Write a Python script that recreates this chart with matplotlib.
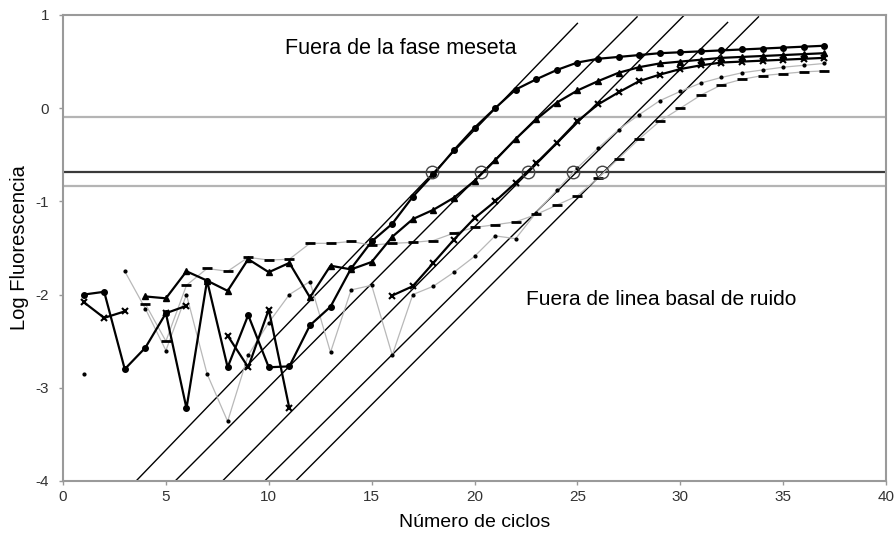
import numpy as np
import matplotlib
matplotlib.use("Agg")
import matplotlib.pyplot as plt

plt.rcParams['font.family'] = ['Liberation Sans', 'DejaVu Sans']
plt.rcParams['axes.unicode_minus'] = False

nan = np.nan
ciclos = np.arange(1, 38)

# Log fluorescencia por ciclo (1..37), nan = sin valor
serie_a = [-2.0, -1.97, -2.8, -2.57, -2.2, -3.22, -1.85, -2.78, -2.22, -2.78,
           -2.77, -2.33, -2.13, -1.72, -1.43, -1.24, -0.95, -0.71, -0.45, -0.21,
           0.0, 0.2, 0.31, 0.41, 0.49, 0.53, 0.55, 0.57, 0.59, 0.6,
           0.61, 0.62, 0.63, 0.64, 0.65, 0.66, 0.67]
serie_b = [nan, nan, nan, -2.02, -2.04, -1.75, -1.85, -1.96, -1.62, -1.76,
           -1.66, -2.03, -1.69, -1.73, -1.65, -1.38, -1.19, -1.09, -0.96, -0.78,
           -0.56, -0.33, -0.12, 0.06, 0.19, 0.29, 0.38, 0.44, 0.48, 0.5,
           0.52, 0.54, 0.55, 0.56, 0.57, 0.58, 0.59]
serie_c = [-2.08, -2.25, -2.18, nan, -2.2, -2.12, nan, -2.44, -2.78, -2.16,
           -3.22, nan, nan, nan, nan, -2.01, -1.91, -1.66, -1.41, -1.18,
           -1.0, -0.8, -0.59, -0.37, -0.14, 0.04, 0.17, 0.29, 0.36, 0.42,
           0.46, 0.49, 0.5, 0.51, 0.52, 0.53, 0.54]
serie_d = [-2.85, nan, -1.75, -2.15, -2.6, -2.0, -2.85, -3.36, -2.65, -2.3,
           -2.0, -1.86, -2.62, -1.95, -1.9, -2.65, -2.0, -1.91, -1.76, -1.59,
           -1.37, -1.4, -1.12, -0.88, -0.64, -0.43, -0.23, -0.07, 0.08, 0.18,
           0.27, 0.33, 0.38, 0.41, 0.44, 0.46, 0.48]
serie_e = [nan, nan, nan, -2.1, -2.5, -1.9, -1.72, -1.75, -1.6, -1.63,
           -1.62, -1.45, -1.45, -1.43, -1.47, -1.45, -1.44, -1.42, -1.34, -1.28,
           -1.25, -1.22, -1.14, -1.04, -0.94, -0.75, -0.54, -0.33, -0.14, 0.0,
           0.14, 0.25, 0.31, 0.35, 0.37, 0.39, 0.4]

# Umbrales horizontales
umbral_sup = -0.09
umbral = -0.69
umbral_inf = -0.84

# Rectas de eficiencia: punto inferior y punto superior
rectas_x0 = [3.55, 5.45, 7.75, 9.8, 11.3]
rectas_y0 = [-4, -4, -4, -4, -4]
rectas_x1 = [25.0, 27.9, 30.2, 32.3, 33.8]
rectas_y1 = [0.91, 0.98, 1.0, 0.92, 0.98]

# Ct (cruce con el umbral)
ct = [17.95, 20.3, 22.6, 24.8, 26.2]

fig = plt.figure(figsize=(8.94, 5.43), dpi=100)
ax = fig.add_axes([0.0705, 0.1142, 0.9206, 0.8582])

ax.axhline(umbral_sup, color='#b4b4b4', lw=1.6, zorder=1)
ax.axhline(umbral, color='#3a3a3a', lw=1.6, zorder=1)
ax.axhline(umbral_inf, color='#b4b4b4', lw=1.6, zorder=1)

for x0, y0, x1, y1 in zip(rectas_x0, rectas_y0, rectas_x1, rectas_y1):
    ax.plot([x0, x1], [y0, y1], color='black', lw=1.0, zorder=2)

ax.plot(ciclos, serie_d, color='#b8b8b8', lw=0.9, marker='.', ms=4,
        mfc='black', mec='black', zorder=3)
ax.plot(ciclos, serie_e, color='#b8b8b8', lw=0.9, marker='_', ms=7, mew=2,
        mec='black', zorder=3)
ax.plot(ciclos, serie_c, color='black', lw=1.6, marker='x', ms=4, mew=1.5,
        zorder=4)
ax.plot(ciclos, serie_b, color='black', lw=1.6, marker='^', ms=4, zorder=4)
ax.plot(ciclos, serie_a, color='black', lw=1.6, marker='o', ms=4, zorder=4)

ax.plot(ct, [umbral] * len(ct), ls='none', marker='o', ms=9, mfc='none',
        mec='#444444', mew=1.0, zorder=5)

ax.text(10.8, 0.64, "Fuera de la fase meseta", fontsize=15.5, va='center')
ax.text(22.5, -2.05, "Fuera de linea basal de ruido", fontsize=15,
        va='center')

ax.set_xlim(0, 40)
ax.set_ylim(-4, 1)
ax.set_xticks(range(0, 41, 5))
ax.set_yticks(range(-4, 2))
ax.tick_params(colors='#333333', labelsize=11, length=3, width=1,
               color='#999999')
ax.tick_params(axis='y', pad=7)
for s in ax.spines.values():
    s.set_color('#9a9a9a')
    s.set_linewidth(1.5)

ax.set_xlabel("Número de ciclos", fontsize=14, labelpad=7)
ax.set_ylabel("Log Fluorescencia", fontsize=14.5, labelpad=5)

fig.savefig("out.png", dpi=100)
